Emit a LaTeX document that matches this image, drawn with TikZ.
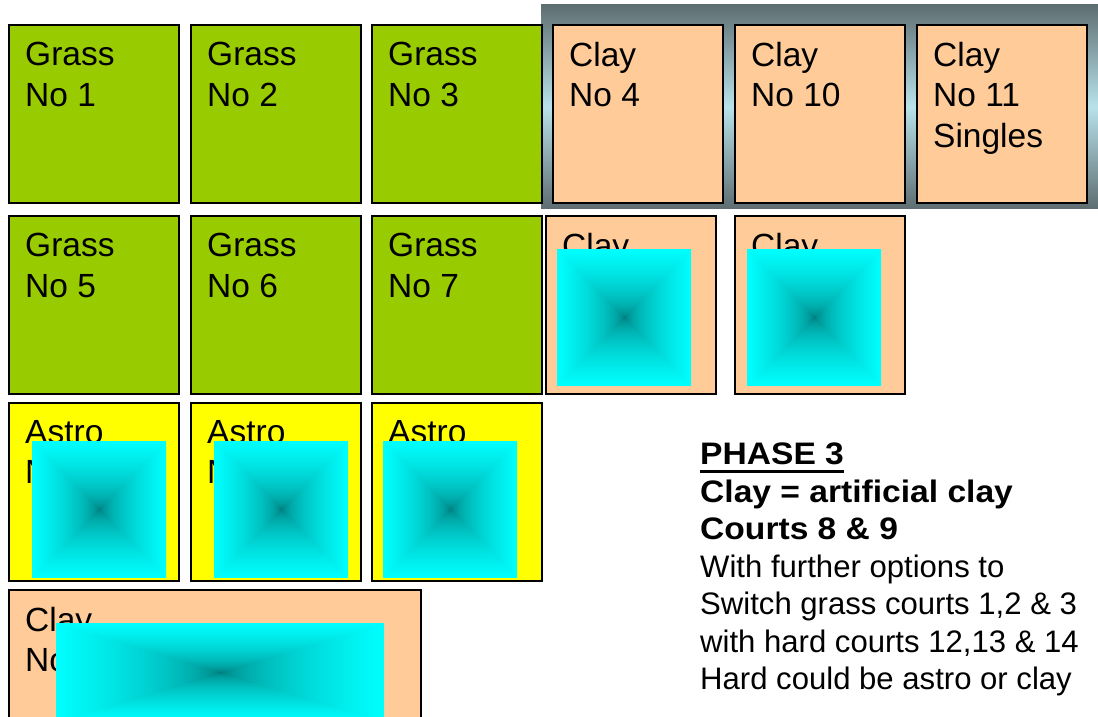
\documentclass[tikz,border=0pt]{standalone}
\usepackage{fontspec}
\setmainfont{Liberation Sans}
\newfontfamily\widesans[FakeStretch=1.08]{Liberation Sans}
\usetikzlibrary{positioning}

\definecolor{grassgreen}{HTML}{99CC00}
\definecolor{claypeach}{HTML}{FFCC99}
\definecolor{astroyellow}{HTML}{FFFF00}
\definecolor{barDark}{HTML}{5E6E72}
\definecolor{barLight}{HTML}{B8E2EA}

% pyramid shading: cyan at the rim, teal in the middle
\pgfdeclarefunctionalshading{pyramid}{\pgfpoint{-50bp}{-50bp}}{\pgfpoint{50bp}{50bp}}{}{
  abs exch abs 2 copy lt {exch} if pop 25 div dup 1 gt {pop 1} if sqrt 0.55 mul 0.45 add dup 0 3 1 roll
}

\newcommand{\thickul}[1]{\setbox0\hbox{#1}\rlap{\rule[-8pt]{\wd0}{3pt}}\box0}
\newcommand{\notehead}[1]{{\widesans\bfseries #1}}

\begin{document}
\begin{tikzpicture}[x=1pt,y=-1pt,
    court/.style={draw=black, line width=1.6pt, minimum width=170pt, minimum height=178pt, anchor=north west, inner sep=0pt},
    grass/.style={court, fill=grassgreen},
    clay/.style={court, fill=claypeach},
    astro/.style={court, fill=astroyellow},
    lbl/.style={anchor=north west, align=left, inner sep=0pt, font=\fontsize{33.5}{40.5}\selectfont, xshift=17pt, yshift=-18pt},
    pad/.style={anchor=north west, inner sep=0pt, shade, shading=pyramid}]
  \clip (0,0) rectangle (1098,717);
  \useasboundingbox (0,0) rectangle (1098,717);

  % backdrop behind the clay row
  \shade[top color=barDark, bottom color=barDark, middle color=barLight] (541,5) rectangle (1098,208);

  % row 1
  \node[grass] (g1) at (8,24) {};
  \node[grass] (g2) at (190,24) {};
  \node[grass] (g3) at (371,24) {};
  \node[clay] (c4) at (552,24) {};
  \node[clay] (c10) at (734,24) {};
  \node[clay] (c11) at (916,24) {};
  \node[lbl] (t1) at (g1.north west) {Grass\\No 1};
  \node[lbl] (t2) at (g2.north west) {Grass\\No 2};
  \node[lbl] (t3) at (g3.north west) {Grass\\No 3};
  \node[lbl] (t4) at (c4.north west) {Clay\\No 4};
  \node[lbl] (t10) at (c10.north west) {Clay\\No 10};
  \node[lbl] (t11) at (c11.north west) {Clay\\No 11\\Singles};

  % row 2
  \node[grass] (g5) at (8,215) {};
  \node[grass] (g6) at (190,215) {};
  \node[grass] (g7) at (371,215) {};
  \node[clay] (c8) at (545,215) {};
  \node[clay] (c9) at (734,215) {};
  \node[lbl] (t5) at (g5.north west) {Grass\\No 5};
  \node[lbl] (t6) at (g6.north west) {Grass\\No 6};
  \node[lbl] (t7) at (g7.north west) {Grass\\No 7};
  \node[lbl] (t8) at (c8.north west) {Clay\\No 8};
  \node[lbl] (t9) at (c9.north west) {Clay\\No 9};
  \node[pad, minimum width=134pt, minimum height=136pt] (p8) at (557,249) {};
  \node[pad, minimum width=134pt, minimum height=136pt] (p9) at (747,249) {};

  % row 3
  \node[astro] (a12) at (8,402) {};
  \node[astro] (a13) at (190,402) {};
  \node[astro] (a14) at (371,402) {};
  \node[lbl] (t12) at (a12.north west) {Astro\\No 12};
  \node[lbl] (t13) at (a13.north west) {Astro\\No 13};
  \node[lbl] (t14) at (a14.north west) {Astro\\No 14};
  \node[pad, minimum width=134pt, minimum height=136pt] (p12) at (32,441) {};
  \node[pad, minimum width=134pt, minimum height=136pt] (p13) at (214,441) {};
  \node[pad, minimum width=134pt, minimum height=136pt] (p14) at (383,441) {};

  % row 4
  \node[clay, minimum width=412pt, minimum height=150pt] (c15) at (8,589) {};
  \node[lbl] (t15) at (c15.north west) {Clay\\No 15};
  \node[pad, minimum width=328pt, minimum height=98pt] (p15) at (56,623) {};

  % notes
  \node[anchor=north west, align=left, inner sep=0pt, font=\fontsize{31.1}{37.5}\selectfont] (notes) at (700,443)
    {\notehead{\thickul{PHASE 3}}\\
     \notehead{Clay = artificial clay}\\
     \notehead{Courts 8 \& 9}\\
     With further options to\\
     Switch grass courts 1,2 \& 3\\
     with hard courts 12,13 \& 14\\
     Hard could be astro or clay};
\end{tikzpicture}
\end{document}
